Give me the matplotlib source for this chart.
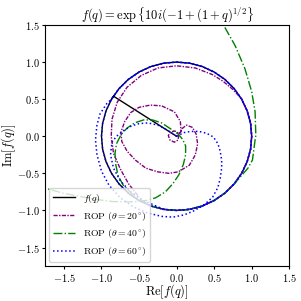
import numpy as np
import matplotlib
matplotlib.use("Agg")
import matplotlib.pyplot as plt

plt.rcParams.update({
    "font.family": "serif",
    "font.serif": ["cmr10"],
    "mathtext.fontset": "cm",
    "axes.formatter.use_mathtext": True,
})

nan = np.nan

# points read along the unit circle, every 10 degrees starting at (1, 0)
ring_x = [1.0, 0.985, 0.94, 0.866, 0.766, 0.643, 0.5, 0.342, 0.174, 0.0, -0.174, -0.342,
          -0.5, -0.643, -0.766, -0.866, -0.94, -0.985, -1.0, -0.985, -0.94, -0.866, -0.766, -0.643,
          -0.5, -0.342, -0.174, 0.0, 0.174, 0.342, 0.5, 0.643, 0.766, 0.866, 0.94, 0.985]
ring_y = [0.0, 0.174, 0.342, 0.5, 0.643, 0.766, 0.866, 0.94, 0.985, 1.0, 0.985, 0.94,
          0.866, 0.766, 0.643, 0.5, 0.342, 0.174, 0.0, -0.174, -0.342, -0.5, -0.643, -0.766,
          -0.866, -0.94, -0.985, -1.0, -0.985, -0.94, -0.866, -0.766, -0.643, -0.5, -0.342, -0.174]

# f(q): radial segment for q < -1, end point on the circle
seg_x = [0.0, -0.84]
seg_y = [0.0, 0.54]

# ROP theta = 20 deg: loops about the origin, then the inner arc
rop20_loop_x = [0.03, 0.02, -0.03, -0.09, -0.11, -0.08, -0.02, 0.03, 0.06,
                0.05, -0.03, -0.2, -0.35, -0.5, -0.61, -0.69, -0.74, -0.73, -0.66, -0.55, -0.41,
                -0.25, -0.1, 0.02, 0.17, 0.25, 0.28, 0.26, 0.21, 0.13, 0.07, 0.03]
rop20_loop_y = [0.02, -0.05, -0.08, -0.05, 0.01, 0.06, 0.07, 0.04, 0.06,
                0.2, 0.33, 0.41, 0.42, 0.39, 0.32, 0.2, 0.06, -0.07, -0.2, -0.32, -0.43,
                -0.48, -0.5, -0.48, -0.39, -0.25, -0.1, 0.03, 0.12, 0.15, 0.1, 0.03]
rop20_arc_x = [0.87, 0.75, 0.62, 0.48, 0.25, 0.0, -0.25, -0.47, -0.66, -0.79, -0.86, -0.87,
               -0.84, -0.75, -0.64, -0.5]
rop20_arc_y = [0.5, 0.63, 0.74, 0.83, 0.92, 0.95, 0.92, 0.82, 0.66, 0.46, 0.23, 0.0,
               -0.23, -0.44, -0.64, -0.82]

# ROP theta = 40 deg: arc entering from the left, inner loop, outward spiral on the right
rop40_in_x = [-1.85, -1.75, -1.5, -1.29, -1.05, -0.85, -0.6, -0.42, -0.28, -0.15, -0.05, 0.03,
              0.09, 0.12, 0.12, 0.08, 0.02, -0.08, -0.2, -0.32, -0.44, -0.56, -0.66, -0.74,
              -0.8, -0.82, -0.81, -0.78, -0.71, -0.6, -0.47]
rop40_in_y = [-0.66, -0.70, -0.77, -0.81, -0.855, -0.88, -0.885, -0.87, -0.83, -0.75, -0.64, -0.52,
              -0.38, -0.25, -0.13, -0.04, 0.03, 0.1, 0.18, 0.22, 0.22, 0.18, 0.11, 0.02,
              -0.1, -0.23, -0.38, -0.53, -0.66, -0.77, -0.86]
rop40_out_x = [0.95, 1.01, 1.045, 1.055, 1.045, 1.0, 0.91, 0.78, 0.63, 0.55]
rop40_out_y = [-0.43, -0.32, -0.05, 0.01, 0.33, 0.6, 0.91, 1.22, 1.49, 1.6]

# ROP theta = 60 deg: right loop, outer arc on the left, circle, inner arc back to origin
rop60_a_x = [0.0, 0.1, 0.19, 0.3, 0.4, 0.49, 0.55, 0.58, 0.6, 0.6, 0.58, 0.55, 0.48, 0.36,
             0.22, 0.1, -0.05, -0.2, -0.4, -0.58, -0.75, -0.9, -1.0, -1.06, -1.08, -1.06,
             -1.02, -0.93]
rop60_a_y = [0.0, 0.05, 0.065, 0.065, 0.04, -0.01, -0.1, -0.2, -0.32, -0.43, -0.57, -0.69,
             -0.82, -0.93, -1.01, -1.06, -1.09, -1.08, -1.03, -0.95, -0.83, -0.66, -0.47, -0.25,
             -0.05, 0.15, 0.3, 0.44]
rop60_b_x = [-0.45, -0.62, -0.75, -0.84, -0.88, -0.86, -0.8, -0.7, -0.6, -0.5, -0.38, -0.25,
             -0.12, 0.0]
rop60_b_y = [-0.86, -0.74, -0.6, -0.43, -0.25, -0.08, 0.0, 0.08, 0.14, 0.17, 0.18, 0.15,
             0.08, 0.0]

ring_x = np.array(ring_x)
ring_y = np.array(ring_y)

# walk the read circle points in order (indices only)
f_idx = [(15 + k) % 36 for k in range(37)]
rop20_ring = [(24 + k) % 36 for k in range(16)]
rop40_ring = [(25 + k) % 36 for k in range(8)]
rop60_ring = [(15 - k) % 36 for k in range(62)]

f_x = np.concatenate([seg_x, ring_x[f_idx]])
f_y = np.concatenate([seg_y, ring_y[f_idx]])
rop20_x = np.concatenate([rop20_loop_x, [nan], ring_x[rop20_ring], rop20_arc_x])
rop20_y = np.concatenate([rop20_loop_y, [nan], ring_y[rop20_ring], rop20_arc_y])
rop40_x = np.concatenate([rop40_in_x, ring_x[rop40_ring], rop40_out_x])
rop40_y = np.concatenate([rop40_in_y, ring_y[rop40_ring], rop40_out_y])
rop60_x = np.concatenate([rop60_a_x, ring_x[rop60_ring], rop60_b_x])
rop60_y = np.concatenate([rop60_a_y, ring_y[rop60_ring], rop60_b_y])

fig = plt.figure(figsize=(3.01, 3.01), dpi=100)
ax = fig.add_axes([0.150, 0.116, 0.811, 0.801])

ax.plot(f_x, f_y, color="black", lw=1.0, label=r"$f(q)$")
ax.plot(rop20_x, rop20_y, color="purple", lw=1.0, ls=(0, (3, 1, 1, 1)),
        label=r"ROP ($\theta = 20^{\circ}$)")
ax.plot(rop40_x, rop40_y, color="green", lw=1.0, ls="-.",
        label=r"ROP ($\theta = 40^{\circ}$)")
ax.plot(rop60_x, rop60_y, color="blue", lw=1.1, ls=":",
        label=r"ROP ($\theta = 60^{\circ}$)")

ax.set_xlim(-1.75, 1.5)
ax.set_ylim(-1.75, 1.5)
ax.set_xticks([-1.5, -1.0, -0.5, 0.0, 0.5, 1.0, 1.5])
ax.set_yticks([-1.5, -1.0, -0.5, 0.0, 0.5, 1.0, 1.5])
ax.tick_params(labelsize=7.5, length=2.5, pad=1.5)
ax.set_xlabel(r"$\mathrm{Re}[f(q)]$", fontsize=9)
ax.set_ylabel(r"$\mathrm{Im}[f(q)]$", fontsize=9)
ax.xaxis.set_label_coords(0.5, -0.068)
ax.yaxis.set_label_coords(-0.11, 0.5)
ax.set_title(r"$f(q) = \exp\{10i(-1 + (1+q)^{1/2}\}$", fontsize=9, pad=4)
ax.legend(loc="lower left", fontsize=7, handlelength=2.3, borderaxespad=0.4)

fig.savefig("out.png", dpi=100)
